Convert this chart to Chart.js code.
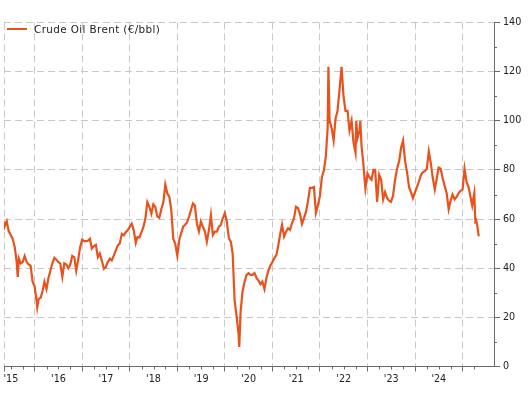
<!DOCTYPE html>
<html>
<head>
<meta charset="utf-8">
<script src="https://cdn.jsdelivr.net/npm/chart.js@4.4.1/dist/chart.umd.min.js"></script>
<style>
  html, body { margin: 0; padding: 0; background: #fff; }
  #wrap { position: relative; width: 529px; height: 394px; }
  #legend { position: absolute; left: 7px; top: 23.4px; height: 12px; font-family: "DejaVu Sans", sans-serif; font-size: 10.4px; line-height: 12px; letter-spacing: 0.38px; color: #222; white-space: nowrap; }
  #legend .swatch { position: absolute; left: 0; top: 5px; width: 20px; height: 2px; background: #E8521C; }
  #legend .txt { position: absolute; left: 27px; top: 0; }
</style>
</head>
<body>
<div id="wrap">
  <canvas id="c" width="529" height="394"></canvas>
  <div id="legend"><span class="swatch"></span><span class="txt">Crude Oil Brent (€/bbl)</span></div>
</div>
<script>
// ---- Data ----
const seriesName = "Crude Oil Brent (€/bbl)";
const dates = [
 "2015-05-11","2015-05-16","2015-06-01","2015-06-16","2015-07-01","2015-07-16","2015-08-01","2015-08-16","2015-08-24","2015-09-01","2015-09-16","2015-10-01","2015-10-16","2015-11-01","2015-11-16","2015-12-01","2015-12-16",
 "2016-01-01","2016-01-16","2016-01-21","2016-02-01","2016-02-16","2016-03-01","2016-03-16","2016-04-01","2016-04-16","2016-05-01","2016-05-16","2016-06-01","2016-06-16","2016-07-01","2016-07-16","2016-08-01","2016-08-16","2016-09-01","2016-09-16","2016-10-01","2016-10-16","2016-11-01","2016-11-16","2016-12-01","2016-12-16",
 "2017-01-01","2017-01-16","2017-02-01","2017-02-16","2017-03-01","2017-03-16","2017-04-01","2017-04-16","2017-05-01","2017-05-16","2017-06-01","2017-06-16","2017-07-01","2017-07-16","2017-08-01","2017-08-16","2017-09-01","2017-09-16","2017-10-01","2017-10-16","2017-11-01","2017-11-16","2017-12-01","2017-12-16",
 "2018-01-01","2018-01-16","2018-02-01","2018-02-16","2018-03-01","2018-03-16","2018-04-01","2018-04-16","2018-05-01","2018-05-16","2018-06-01","2018-06-16","2018-07-01","2018-07-16","2018-08-01","2018-08-16","2018-09-01","2018-09-16","2018-10-01","2018-10-16","2018-11-01","2018-11-16","2018-12-01","2018-12-16",
 "2019-01-01","2019-01-16","2019-02-01","2019-02-16","2019-03-01","2019-03-16","2019-04-01","2019-04-16","2019-05-01","2019-05-16","2019-06-01","2019-06-16","2019-07-01","2019-07-16","2019-08-01","2019-08-16","2019-09-01","2019-09-16","2019-10-01","2019-10-16","2019-11-01","2019-11-16","2019-12-01","2019-12-16",
 "2020-01-01","2020-01-16","2020-02-01","2020-02-16","2020-03-01","2020-03-16","2020-04-01","2020-04-16","2020-04-21","2020-05-01","2020-05-16","2020-06-01","2020-06-16","2020-07-01","2020-07-16","2020-08-01","2020-08-16","2020-09-01","2020-09-16","2020-10-01","2020-10-16","2020-11-01","2020-11-16","2020-12-01","2020-12-16",
 "2021-01-01","2021-01-16","2021-02-01","2021-02-16","2021-03-01","2021-03-16","2021-04-01","2021-04-16","2021-05-01","2021-05-16","2021-06-01","2021-06-16","2021-07-01","2021-07-16","2021-08-01","2021-08-16","2021-09-01","2021-09-16","2021-10-01","2021-10-16","2021-11-01","2021-11-16","2021-12-01","2021-12-16",
 "2022-01-01","2022-01-16","2022-02-01","2022-02-16","2022-03-01","2022-03-07","2022-03-16","2022-04-01","2022-04-16","2022-05-01","2022-05-16","2022-06-01","2022-06-16","2022-07-01","2022-07-16","2022-08-01","2022-08-16","2022-09-01","2022-09-16","2022-10-01","2022-10-07","2022-10-16","2022-11-01","2022-11-07","2022-11-16","2022-12-01","2022-12-16",
 "2023-01-01","2023-01-16","2023-02-01","2023-02-16","2023-03-01","2023-03-16","2023-04-01","2023-04-16","2023-05-01","2023-05-16","2023-06-01","2023-06-16","2023-07-01","2023-07-16","2023-08-01","2023-08-16","2023-09-01","2023-09-16","2023-10-01","2023-10-16","2023-11-01","2023-11-16","2023-12-01","2023-12-16",
 "2024-01-01","2024-01-16","2024-02-01","2024-02-16","2024-03-01","2024-03-16","2024-04-01","2024-04-16","2024-05-01","2024-05-16","2024-06-01","2024-06-16","2024-07-01","2024-07-16","2024-08-01","2024-08-16","2024-09-01","2024-09-16","2024-10-01","2024-10-16","2024-11-01","2024-11-16","2024-12-01","2024-12-16",
 "2025-01-01","2025-01-16","2025-02-01","2025-02-16","2025-03-01","2025-03-16","2025-04-01","2025-04-09","2025-04-16","2025-04-25","2025-05-05"
];
const brent = [
 59,57,59,55,53.5,52,48.6,42.5,36.5,44,42,42.5,45,42.5,41.5,41,34.5,
 32.5,26.5,24,27.5,28,30.5,34.5,31.5,36,39,42,44.3,43.5,42.5,42,36.5,42,41.5,40,41.5,45,44.5,39,43.5,48.5,
 51.6,51,51,51.3,52,48,49,49.5,44.5,46,43,39.8,40.5,42.5,43.9,43.2,45.2,47.3,49.3,50,54,53.4,54.7,55.4,
 56.8,58.1,55.4,50.3,52.7,52.5,54.7,56.8,60.2,66.9,64.9,62.2,66,64.9,61,60.5,64.2,66.9,74,70.5,69,63.5,52,50,
 45,51.5,54.5,57,57.6,58.6,61,63.7,66.4,65.5,58,55,59,56.9,54.9,50.8,55.6,61.7,53.5,54.9,54.9,56.9,57.6,60.3,
 62.4,59,52.2,50.8,46,27,20.3,13,8,22,30.5,34.5,37.3,38,37.3,37.3,38,36,35,33.5,34.5,31.5,36,39,41,
 42.5,44.1,45.4,49.5,53.6,57.7,52.9,54.9,56.3,55.6,58.4,60.4,65,64.5,62,58,60.5,63,67.2,72.7,72.7,73,62.5,65.5,
 69.5,77,80,86,97,122,100,97,92,101,104,113,122,110,104,104,96,100,91,87,100,93,96,100,90,82,72.5,
 78.5,77,76,80,80,67,78,76,68,71,68.5,67.5,67,69.5,76,80.5,83.5,89,92,84,79,73,71,68.5,
 71,73,75.5,78,79,79.5,80.5,87.5,83,77,72,76.5,81,80.5,76.5,73.5,70.5,64,67.5,70,68,69,70.5,71.5,
 72,80.5,75,73,69.5,65.5,70.5,59,59.5,57,53
];
const yearLabels = ["'15","'16","'17","'18","'19","'20","'21","'22","'23","'24"];
const labelYears = [2015,2016,2017,2018,2019,2020,2021,2022,2023,2024];
const yMajorTicks = [0,20,40,60,80,100,120,140];
const yMinorTicks = [10,30,50,70,90,110,130];

// ---- helpers ----
function toYear(s) {
  const [y, m, d] = s.split('-').map(Number);
  const t0 = Date.UTC(y, 0, 1), t1 = Date.UTC(y + 1, 0, 1);
  return y + (Date.UTC(y, m - 1, d) - t0) / (t1 - t0);
}
const points = dates.map((d, i) => ({ x: toYear(d), y: brent[i] }));

const X_MIN = 2015.355, X_MAX = 2025.661;
const quarterTicks = [];
for (let q = 2015.5; q <= 2025.25 + 1e-9; q += 0.25) quarterTicks.push(Math.round(q * 100) / 100);
const isYear = v => Math.abs(v - Math.round(v)) < 1e-6;
const isMin = v => Math.abs(v - X_MIN) < 1e-6;
const labelFor = v => {
  const k = labelYears.findIndex(y => Math.abs(v - (y + 0.5)) < 1e-6);
  return k >= 0 ? yearLabels[k] : '';
};

const LINE = '#E8521C';
const GRID = '#c8c8c8';
const AXIS = '#6b6b6b';
const FONT = { family: '"DejaVu Sans", sans-serif', size: 9.6 };

const minorTickPlugin = {
  id: 'minorTicks',
  afterDraw(chart) {
    const { ctx, scales: { x, y } } = chart;
    ctx.save();
    ctx.strokeStyle = AXIS;
    ctx.lineWidth = 1;
    ctx.beginPath();
    yMinorTicks.forEach(v => {
      const py = Math.round(y.getPixelForValue(v)) + 0.5;
      ctx.moveTo(y.left, py); ctx.lineTo(y.left + 3, py);
    });
    quarterTicks.filter(v => !isYear(v)).forEach(v => {
      const px = Math.round(x.getPixelForValue(v)) + 0.5;
      ctx.moveTo(px, x.top); ctx.lineTo(px, x.top + 3);
    });
    ctx.stroke();
    ctx.restore();
  }
};

new Chart(document.getElementById('c'), {
  type: 'line',
  data: {
    datasets: [{
      label: seriesName,
      data: points,
      borderColor: LINE,
      backgroundColor: LINE,
      borderWidth: 2.2,
      pointRadius: 0,
      tension: 0,
      fill: false
    }]
  },
  options: {
    responsive: false,
    devicePixelRatio: 1,
    animation: false,
    layout: { padding: { left: 4, top: 22.5, right: 0, bottom: 0 } },
    plugins: { legend: { display: false }, tooltip: { enabled: false } },
    scales: {
      x: {
        type: 'linear',
        position: 'bottom',
        min: X_MIN,
        max: X_MAX,
        afterBuildTicks(scale) {
          scale.ticks = [X_MIN, ...quarterTicks].map(v => ({ value: v }));
        },
        afterFit(scale) { scale.height = 27.5; },
        grid: {
          color: c => (c.tick && (isYear(c.tick.value) || isMin(c.tick.value))) ? GRID : 'rgba(0,0,0,0)',
          tickColor: c => (c.tick && (isYear(c.tick.value) || isMin(c.tick.value))) ? AXIS : 'rgba(0,0,0,0)',
          lineWidth: 1,
          tickLength: 5,
          drawTicks: true
        },
        border: { display: true, color: AXIS, width: 1, dash: [7, 4] },
        ticks: {
          autoSkip: false,
          maxRotation: 0,
          minRotation: 0,
          padding: 2.5,
          color: '#222',
          font: FONT,
          callback: v => labelFor(v)
        }
      },
      y: {
        type: 'linear',
        position: 'right',
        min: 0,
        max: 140,
        afterBuildTicks(scale) {
          scale.ticks = yMajorTicks.map(v => ({ value: v }));
        },
        afterFit(scale) { scale.width = 35; },
        grid: {
          color: c => (c.tick && c.tick.value > 0) ? GRID : 'rgba(0,0,0,0)',
          tickColor: AXIS,
          lineWidth: 1,
          tickLength: 6
        },
        border: { display: true, color: AXIS, width: 1, dash: [7, 4] },
        ticks: {
          padding: 3,
          color: '#222',
          font: FONT,
          callback: v => String(v)
        }
      }
    }
  },
  plugins: [minorTickPlugin]
});
</script>
</body>
</html>
